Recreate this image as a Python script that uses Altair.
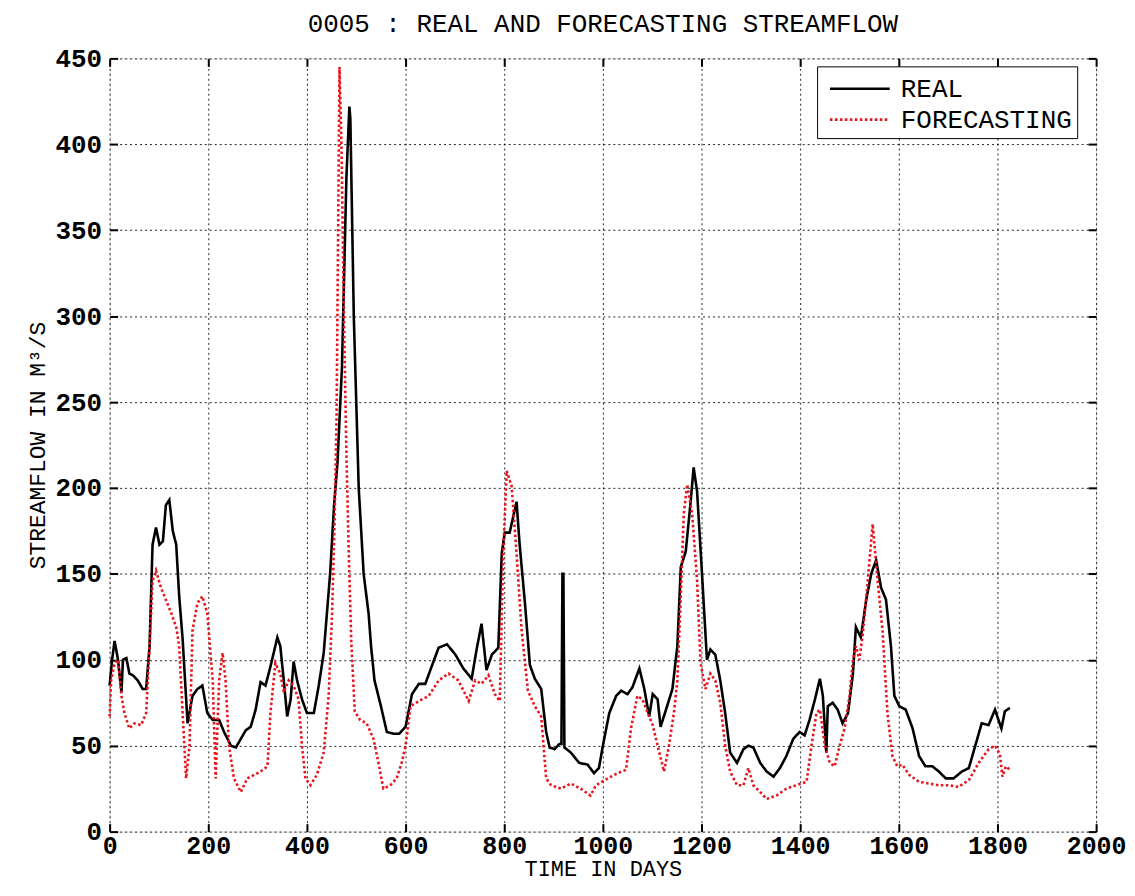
import altair as alt
import pandas as pd

real_days = [0, 5, 10, 17, 24, 27, 34, 40, 47, 57, 67, 74, 81, 87, 94, 101, 108, 114, 121, 128,
             135, 141, 148, 158, 168, 178, 188, 198, 209, 222, 232, 246, 256, 266, 276, 286, 296,
             306, 316, 326, 340, 346, 353, 360, 367, 373, 380, 390, 400, 414, 424, 434, 447, 455,
             462, 471, 480, 486, 488, 495, 505, 515, 525, 530, 537, 550, 562, 575, 587, 600, 613,
             627, 640, 654, 667, 684, 701, 717, 734, 744, 754, 764, 775, 788, 795, 801, 811, 825,
             831, 842, 852, 862, 875, 885, 892, 902, 912, 916, 918, 920, 922, 935, 952, 969, 982,
             992, 1000, 1013, 1027, 1037, 1050, 1060, 1074, 1084, 1094, 1101, 1111, 1117, 1128,
             1141, 1151, 1158, 1168, 1178, 1184, 1191, 1201, 1211, 1218, 1228, 1238, 1248, 1258,
             1272, 1285, 1295, 1305, 1319, 1332, 1346, 1359, 1372, 1386, 1399, 1409, 1419, 1430,
             1440, 1446, 1453, 1456, 1466, 1476, 1486, 1497, 1507, 1513, 1523, 1534, 1544, 1554,
             1564, 1574, 1584, 1591, 1601, 1614, 1628, 1641, 1654, 1668, 1681, 1695, 1711, 1728,
             1742, 1755, 1768, 1782, 1795, 1802, 1808, 1815, 1825]
real_vals = [85, 100, 111, 100, 81, 100, 101, 92, 91, 88, 83, 83, 108, 167, 177, 167, 169, 190, 193, 175,
             167, 137, 112, 63, 79, 83, 85, 69, 65, 65, 58, 50, 49, 54, 59, 61, 71,
             87, 85, 96, 113, 108, 88, 67, 77, 99, 88, 77, 69, 69, 85, 104, 150, 190,
             215, 270, 380, 422, 415, 300, 200, 150, 127, 108, 88, 73, 58, 57, 57, 61, 80,
             86, 86, 97, 107, 109, 103, 95, 89, 106, 121, 94, 103, 107, 162, 174, 174, 192,
             168, 133, 97, 89, 83, 58, 49, 48, 51, 51, 150, 150, 49, 46, 40, 39, 34,
             37, 50, 69, 79, 82, 80, 84, 95, 83, 67, 80, 77, 61, 71,
             83, 108, 154, 163, 192, 212, 198, 150, 100, 106, 103, 88, 69, 46,
             40, 48, 50, 49, 40, 35, 32, 37, 44, 54, 58, 56, 65, 77,
             89, 79, 46, 73, 75, 71, 63, 69, 92, 119, 113, 135, 150, 158,
             142, 135, 108, 79, 73, 71, 60, 44, 38, 38, 35, 31, 31, 35,
             37, 50, 63, 62, 71, 65, 60, 70, 72]

fc_days = [0, 3, 10, 17, 24, 30, 40, 50, 64, 74, 81, 87, 94, 104, 114, 125, 135, 141, 148, 155,
           162, 168, 178, 188, 198, 209, 215, 222, 229, 235, 242, 252, 266, 279, 293, 306, 320,
           326, 336, 346, 353, 363, 373, 383, 390, 397, 407, 420, 434, 444, 451, 456, 460, 463,
           466, 470, 475, 480, 485, 490, 497, 508, 521, 535, 545, 555, 569, 582, 592, 600, 610,
           627, 647, 667, 687, 707, 728, 741, 754, 768, 781, 791, 798, 805, 815, 825, 835, 848,
           862, 875, 885, 895, 915, 935, 955, 975, 986, 1010, 1030, 1047, 1057, 1070, 1080,
           1091, 1101, 1111, 1124, 1134, 1144, 1151, 1158, 1164, 1171, 1181, 1191, 1198, 1208,
           1218, 1228, 1238, 1248, 1258, 1272, 1285, 1295, 1305, 1319, 1332, 1352, 1372, 1392,
           1413, 1423, 1433, 1440, 1450, 1460, 1470, 1480, 1490, 1500, 1507, 1513, 1520, 1527,
           1537, 1547, 1557, 1567, 1577, 1587, 1597, 1607, 1621, 1641, 1661, 1681, 1701, 1721,
           1742, 1762, 1782, 1795, 1805, 1810, 1817, 1825]
fc_vals = [67, 88, 98, 100, 79, 69, 60, 63, 62, 69, 108, 146, 152, 142, 135, 127, 119, 108, 69, 31,
           50, 117, 133, 137, 127, 88, 31, 88, 104, 88, 50, 31, 23, 31, 33, 35, 38,
           69, 98, 92, 81, 88, 85, 77, 50, 31, 27, 33, 46, 79, 127, 180, 240, 340,
           445, 400, 300, 220, 160, 110, 70, 65, 63, 54, 40, 25, 27, 31, 40, 50, 73,
           76, 79, 88, 92, 88, 76, 88, 86, 91, 80, 76, 162, 210, 201, 162, 118, 82,
           73, 67, 31, 27, 25, 28, 25, 21, 27, 31, 34, 36, 60, 79, 77,
           69, 62, 50, 35, 50, 69, 88, 137, 185, 202, 185, 146, 98, 83,
           92, 88, 75, 50, 35, 27, 27, 37, 27, 23, 19, 21, 25, 27,
           29, 50, 69, 71, 50, 40, 38, 50, 60, 79, 100, 108, 100, 115,
           146, 179, 146, 117, 69, 44, 38, 39, 33, 29, 28, 27, 27, 26,
           30, 40, 48, 50, 45, 32, 38, 36]

series_names = ["REAL", "FORECASTING"]
x_ticks = [0, 200, 400, 600, 800, 1000, 1200, 1400, 1600, 1800, 2000]
y_ticks = [0, 50, 100, 150, 200, 250, 300, 350, 400, 450]

df = pd.concat([
    pd.DataFrame({"day": real_days, "flow": real_vals, "series": series_names[0], "order": range(len(real_days))}),
    pd.DataFrame({"day": fc_days, "flow": fc_vals, "series": series_names[1], "order": range(len(fc_days))}),
])

FONT = "Liberation Mono"
xs = alt.Scale(domain=[0, 2000], nice=False, zero=False)
ys = alt.Scale(domain=[0, 450], nice=False)

main_x = alt.Axis(values=x_ticks, format="d", title="TIME IN DAYS", grid=True, ticks=False, domain=False,
                  labelFont=FONT, labelFontWeight="bold", labelFontSize=25, labelColor="black",
                  labelPadding=2, titleFont=FONT, titleFontSize=22, titleFontWeight="normal",
                  titleColor="black", titleBaseline="alphabetic", titleY=44,
                  gridColor="black", gridDash=[2, 3],
                  gridWidth=1, gridOpacity=0.85, labelFlush=False)
main_y = alt.Axis(values=y_ticks, format="d", title="STREAMFLOW IN M³/S", grid=True, ticks=False, domain=False,
                  labelFont=FONT, labelFontWeight="bold", labelFontSize=26, labelColor="black",
                  labelPadding=8, titleFont=FONT, titleFontSize=23, titleFontWeight="normal",
                  titleColor="black", titlePadding=6, gridColor="black", gridDash=[2, 3],
                  gridWidth=1, gridOpacity=0.85, labelFlush=False)


def tick_axis(orient, values):
    return alt.Axis(orient=orient, values=values, labels=False, title=None, grid=False,
                    domain=False, ticks=True, tickSize=8, tickWidth=2, tickColor="black",
                    offset=-8)


def make_legend():
    return alt.Legend(title=None, orient="none", legendX=710, legendY=8,
                      strokeColor="black", fillColor="white", padding=5,
                      symbolType="M-0.6,0H3.15", symbolSize=1024, symbolStrokeWidth=2.6,
                      symbolFillColor="transparent",
                      labelFont=FONT, labelFontSize=26, labelColor="black", labelLimit=400,
                      rowPadding=-2, labelOffset=44, cornerRadius=0)


lines = alt.Chart(df).mark_line(strokeWidth=2.6, strokeCap="butt").encode(
    x=alt.X("day:Q", scale=xs, axis=main_x),
    y=alt.Y("flow:Q", scale=ys, axis=main_y),
    color=alt.Color("series:N", scale=alt.Scale(domain=series_names, range=["black", "#e8141c"]),
                    legend=make_legend()),
    strokeDash=alt.StrokeDash("series:N", scale=alt.Scale(domain=series_names, range=[[1, 0], [2.5, 2.5]]),
                              legend=make_legend()),
    order="order:Q",
)

ticks_bl = alt.Chart(df).mark_line(opacity=0).encode(
    x=alt.X("day:Q", scale=xs, axis=tick_axis("bottom", x_ticks)),
    y=alt.Y("flow:Q", scale=ys, axis=tick_axis("left", y_ticks)),
    detail="series:N",
)
ticks_tr = alt.Chart(df).mark_line(opacity=0).encode(
    x=alt.X("day:Q", scale=xs, axis=tick_axis("top", x_ticks)),
    y=alt.Y("flow:Q", scale=ys, axis=tick_axis("right", y_ticks)),
    detail="series:N",
)

chart = alt.layer(lines, ticks_bl, ticks_tr).resolve_scale(
    x="independent", y="independent"
).resolve_axis(
    x="independent", y="independent"
).properties(
    width=990,
    height=776,
    title=alt.TitleParams("0005 : REAL AND FORECASTING STREAMFLOW", font=FONT, fontSize=26,
                          fontWeight="normal", color="black", offset=8, anchor="middle"),
    autosize=alt.AutoSizeParams(type="none"),
    padding={"left": 102, "top": 49, "right": 31, "bottom": 51},
).configure_view(
    stroke="black", strokeWidth=2.5
).configure_legend(
    strokeWidth=1.5
).configure(background="white")

chart.save("out.html", embed_options={"renderer": "svg", "actions": False})
